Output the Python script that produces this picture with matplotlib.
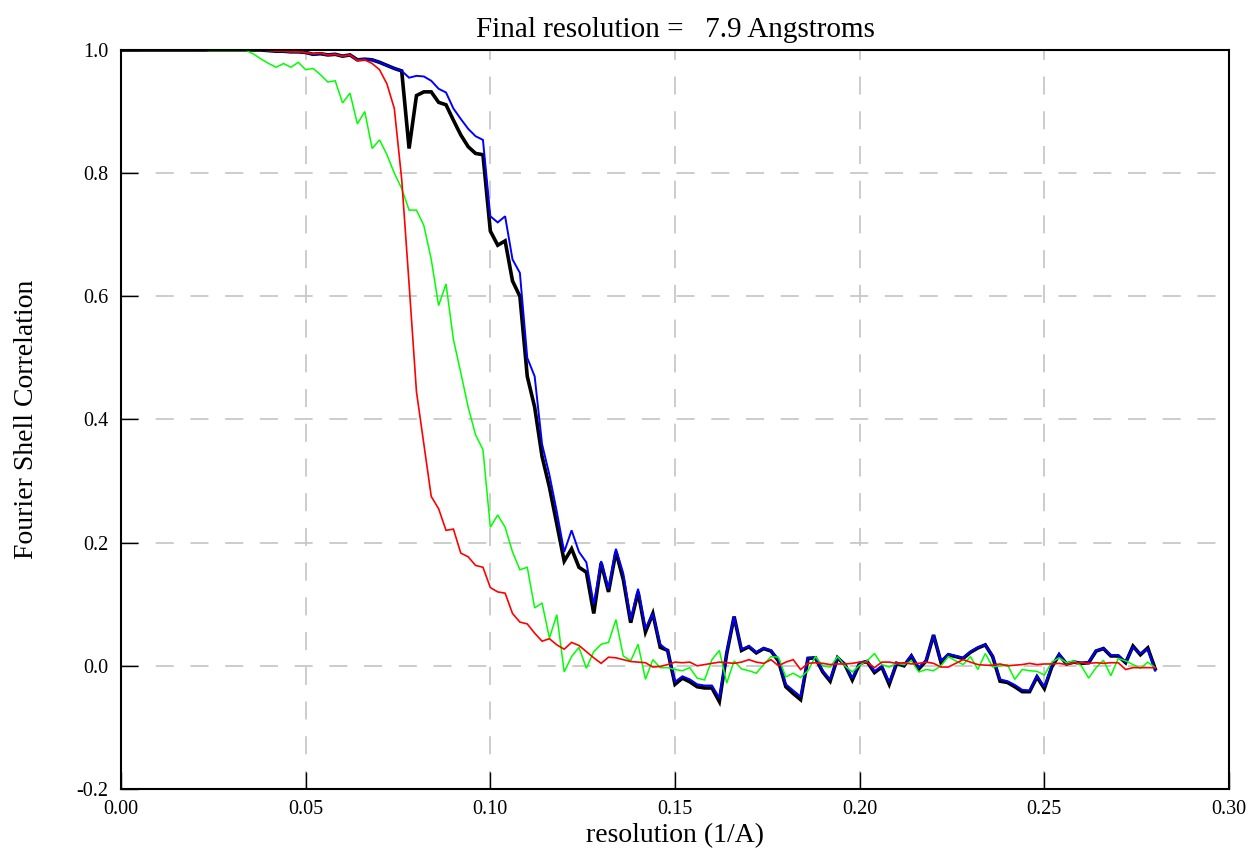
import matplotlib
matplotlib.use("Agg")
import matplotlib.pyplot as plt
import numpy as np

plt.rcParams['font.family'] = ['Liberation Serif', 'DejaVu Serif']
plt.rcParams['lines.scale_dashes'] = False

# --- FSC curves, sampled every 0.002 1/A ---
step = 0.002

fsc_black = [1.0] * 20 + [
    0.999, 0.998, 0.998, 0.997, 0.997, 0.996, 0.993, 0.994, 0.992, 0.993,
    0.990, 0.992, 0.984, 0.985, 0.984, 0.980, 0.975, 0.970, 0.966,
    0.840, 0.926, 0.932, 0.932, 0.915, 0.911, 0.886, 0.862, 0.843, 0.832,
    0.830, 0.706, 0.683, 0.690, 0.625, 0.600,
    0.470, 0.420, 0.340, 0.290, 0.230, 0.170, 0.190, 0.160, 0.152, 0.085,
    0.167, 0.120, 0.185, 0.140, 0.070, 0.120, 0.055, 0.085, 0.030, 0.025,
    -0.030, -0.020, -0.026, -0.034, -0.036, -0.036, -0.058, 0.020, 0.080, 0.025,
    0.031, 0.021, 0.028, 0.024, 0.008, -0.034, -0.045, -0.055, 0.012, 0.013,
    -0.010, -0.025, 0.013, 0.002, -0.023, 0.004, 0.007, -0.011, -0.002, -0.030,
    0.004, 0.000, 0.016, -0.005, 0.008, 0.050, 0.006, 0.018, 0.015, 0.012,
    0.022, 0.029, 0.034, 0.015, -0.025, -0.027, -0.034, -0.042, -0.042, -0.018,
    -0.037, -0.002, 0.018, 0.003, 0.006, 0.004, 0.005, 0.024, 0.028, 0.016,
    0.016, 0.005, 0.032, 0.018, 0.029, -0.005]

fsc_blue = fsc_black[:39] + [
    0.955, 0.958, 0.957, 0.950, 0.937, 0.931, 0.905, 0.888, 0.872, 0.860,
    0.854, 0.730, 0.720, 0.730, 0.660, 0.638,
    0.500, 0.470, 0.360, 0.310, 0.250, 0.185, 0.220, 0.185, 0.168, 0.100,
    0.170, 0.125, 0.190, 0.150, 0.075, 0.125, 0.060, 0.085, 0.035, 0.025,
    -0.026, -0.017, -0.022, -0.030, -0.032, -0.032, -0.052, 0.022, 0.080, 0.027,
    0.032, 0.022, 0.029, 0.025, 0.010, -0.030, -0.040, -0.050, 0.013, 0.013,
    -0.008, -0.022, 0.014, 0.003, -0.020, 0.005, 0.008, -0.009, 0.000, -0.027,
    0.005, 0.001, 0.017, -0.003, 0.009, 0.050, 0.008, 0.019, 0.016, 0.013,
    0.023, 0.030, 0.034, 0.016, -0.022, -0.025, -0.031, -0.039, -0.040, -0.016,
    -0.034, 0.000, 0.019, 0.004, 0.007, 0.005, 0.006, 0.025, 0.028, 0.017,
    0.017, 0.006, 0.030, 0.020, 0.027, -0.008]

fsc_green = [1.0] * 12 + [0.999] * 6 + [
    0.993, 0.985, 0.978, 0.972, 0.978, 0.972, 0.980, 0.968, 0.970, 0.960,
    0.948, 0.950, 0.914, 0.930, 0.880, 0.900, 0.840, 0.854, 0.830, 0.800,
    0.775, 0.740, 0.740, 0.715, 0.660, 0.585, 0.620, 0.530, 0.476, 0.420,
    0.375, 0.351, 0.225, 0.245, 0.225, 0.185, 0.156,
    0.160, 0.094, 0.102, 0.045, 0.083, -0.010, 0.015, 0.030, -0.004, 0.023,
    0.035, 0.038, 0.075, 0.016, 0.008, 0.035, -0.022, 0.010, -0.003, -0.003,
    -0.006, -0.008, -0.003, -0.020, -0.023, 0.010, 0.025, -0.028, 0.008, -0.005,
    -0.008, -0.012, 0.002, 0.015, 0.014, -0.018, -0.012, -0.019, -0.008, 0.015,
    0.000, -0.002, 0.015, 0.000, -0.010, 0.001, 0.008, 0.020, 0.002, -0.002,
    0.004, 0.002, 0.008, -0.010, -0.006, -0.008, 0.000, 0.015, 0.008, 0.002,
    0.015, -0.006, 0.020, -0.002, 0.000, 0.002, -0.022, -0.006, -0.008, -0.009,
    -0.015, 0.006, 0.013, 0.005, 0.008, 0.000, -0.020, -0.003, 0.009, -0.016,
    0.012, 0.008, 0.002, -0.004, 0.006, -0.003]

fsc_red = [1.0] * 20 + [0.999, 0.998, 0.998, 0.997, 0.997] + [
    0.996, 0.994, 0.995, 0.992, 0.993, 0.990, 0.992, 0.983, 0.984, 0.978,
    0.968, 0.945, 0.905, 0.790, 0.620, 0.445, 0.360, 0.275, 0.255, 0.220,
    0.222, 0.183, 0.177, 0.163, 0.160, 0.127, 0.120, 0.118, 0.085, 0.071,
    0.068, 0.053, 0.040, 0.044, 0.034, 0.027, 0.038, 0.033, 0.023, 0.013,
    0.004, 0.014, 0.013, 0.010, 0.007, 0.006, 0.005, -0.002, -0.001, 0.002,
    0.006, 0.005, 0.006, 0.000, 0.002, 0.004, 0.006, 0.005, 0.004, 0.006,
    0.010, 0.006, 0.004, 0.010, 0.000, 0.006, 0.010, -0.006, 0.004, 0.005,
    0.004, 0.002, 0.003, 0.003, 0.004, 0.006, 0.006, -0.003, 0.006, 0.006,
    0.004, 0.005, 0.003, 0.004, 0.006, 0.004, -0.002, -0.002, 0.004, 0.010,
    0.006, 0.002, 0.001, 0.001, 0.003, 0.000, 0.001, 0.002, 0.004, 0.002,
    0.003, 0.003, 0.004, 0.002, 0.005, 0.005, 0.004, 0.005, 0.004, 0.005,
    0.005, -0.006, -0.003, -0.003, -0.003, -0.003]

x_ticks = [0.00, 0.05, 0.10, 0.15, 0.20, 0.25, 0.30]
y_ticks = [-0.2, 0.0, 0.2, 0.4, 0.6, 0.8, 1.0]
final_res = 7.9

curves = [
    (fsc_black, 'black', 2.6),
    (fsc_blue, '#0000ff', 1.4),
    (fsc_green, '#00ff00', 1.1),
    (fsc_red, '#ff0000', 1.2),
]

# --- Plot ---
fig = plt.figure(figsize=(12.59, 8.56), dpi=100)
ax = fig.add_axes([0.0961, 0.0783, 0.8801, 0.8633])

for y, c, lw in curves:
    res = np.arange(len(y)) * step
    ax.plot(res, y, color=c, lw=lw, solid_joinstyle='miter')

ax.set_xlim(0, 0.30)
ax.set_ylim(-0.2, 1.0)
ax.set_xticks(x_ticks)
ax.set_yticks(y_ticks)
ax.set_xticklabels([f'{v:.2f}' for v in x_ticks])
ax.set_yticklabels([f'{v:.1f}' for v in y_ticks])

ax.grid(True, color='#c8c8c8', lw=1.3, linestyle=(0, (13, 12)))
ax.set_axisbelow(True)

ax.tick_params(direction='in', length=12, width=1.0, labelsize=14.5, colors='black')
ax.tick_params(axis='x', pad=8)
ax.tick_params(axis='y', pad=9)
for s in ax.spines.values():
    s.set_linewidth(1.5)

ax.set_xlabel('resolution (1/A)', fontsize=20, labelpad=3)
ax.set_ylabel('Fourier Shell Correlation', fontsize=20, labelpad=27)
ax.set_title(f'Final resolution =   {final_res} Angstroms', fontsize=21, pad=9)

fig.savefig('out.png', dpi=100)
